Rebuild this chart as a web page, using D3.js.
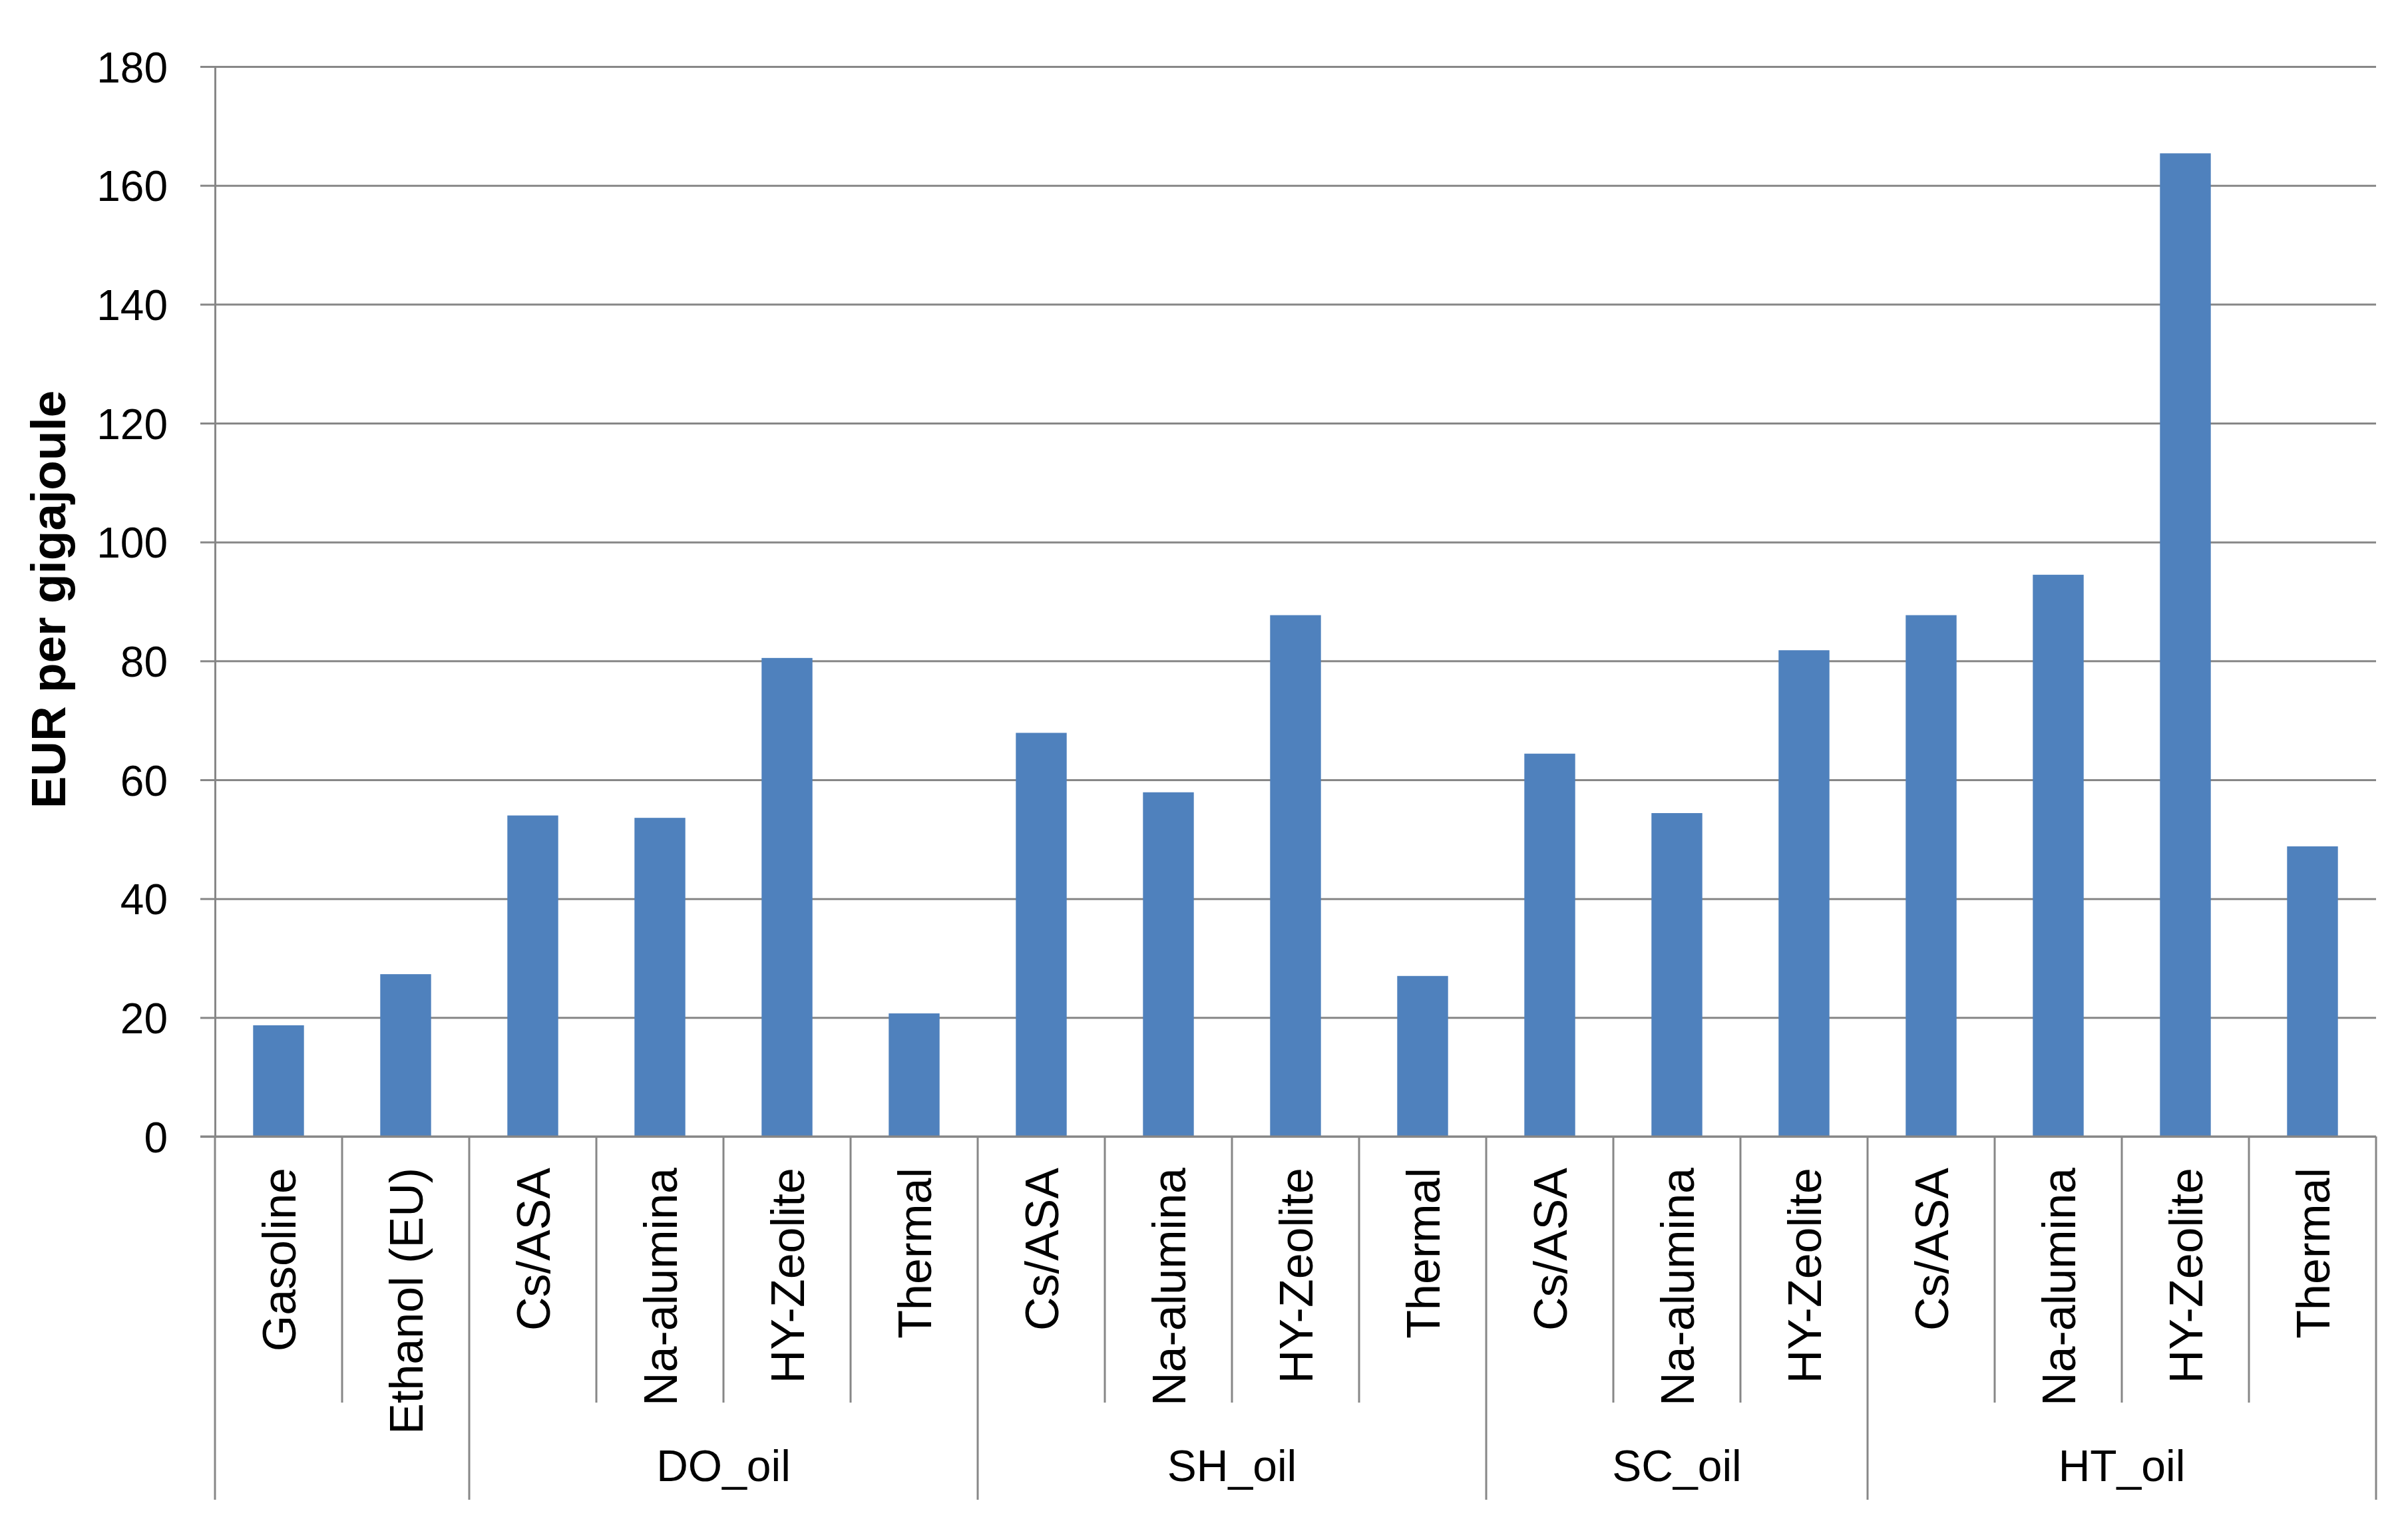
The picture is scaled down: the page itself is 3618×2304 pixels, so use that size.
<!DOCTYPE html>
<html>
<head>
<meta charset="utf-8">
<script src="https://cdn.jsdelivr.net/npm/d3@7"></script>
<style>
    html, body { margin: 0; padding: 0; background: #fff; }
    svg { display: block; }
    text { font-family: "Liberation Sans", Arial, sans-serif; fill: #000; }
</style>
</head>
<body>
<svg id="chart"></svg>
<script>
// categories on the axis (inner level) and the group each one belongs to (outer level)
var categories = ["Gasoline", "Ethanol (EU)",
    "Cs/ASA", "Na-alumina", "HY-Zeolite", "Thermal",
    "Cs/ASA", "Na-alumina", "HY-Zeolite", "Thermal",
    "Cs/ASA", "Na-alumina", "HY-Zeolite",
    "Cs/ASA", "Na-alumina", "HY-Zeolite", "Thermal"];
var groups = ["", "",
    "DO_oil", "DO_oil", "DO_oil", "DO_oil",
    "SH_oil", "SH_oil", "SH_oil", "SH_oil",
    "SC_oil", "SC_oil", "SC_oil",
    "HT_oil", "HT_oil", "HT_oil", "HT_oil"];
// EUR per gigajoule
var costs = [18.7, 27.3,
    54.0, 53.6, 80.5, 20.7,
    67.9, 57.9, 87.7, 27.0,
    64.4, 54.4, 81.8,
    87.7, 94.5, 165.4, 48.8];
var yTicks = [0, 20, 40, 60, 80, 100, 120, 140, 160, 180];

drawChart();

function drawChart() {
    var width = 3618, height = 2304;
    var plotLeft = 323, plotRight = 3570, plotTop = 100, plotBottom = 1708;
    var gridColor = "#878787";

    var svg = d3.select("#chart")
        .attr("width", width)
        .attr("height", height);

    var x = d3.scaleBand()
        .domain(d3.range(categories.length))
        .range([plotLeft, plotRight])
        .padding(0);

    var y = d3.scaleLinear()
        .domain([0, 180])
        .range([plotBottom, plotTop]);

    // horizontal gridlines
    var grid = svg.append("g")
        .attr("transform", "translate(" + plotLeft + ",0)")
        .call(d3.axisLeft(y).tickValues(yTicks).tickSize(-(plotRight - plotLeft)).tickFormat(""));
    grid.select(".domain").remove();
    grid.selectAll("line")
        .attr("stroke", gridColor)
        .attr("stroke-width", 3);

    // y axis: outward ticks + labels
    var yAxis = svg.append("g")
        .attr("transform", "translate(" + plotLeft + ",0)")
        .call(d3.axisLeft(y).tickValues(yTicks).tickSize(22).tickPadding(49).tickSizeOuter(0));
    yAxis.select(".domain")
        .attr("stroke", gridColor)
        .attr("stroke-width", 3);
    yAxis.selectAll(".tick line")
        .attr("stroke", gridColor)
        .attr("stroke-width", 3);
    yAxis.selectAll(".tick text")
        .attr("font-size", 64)
        .attr("font-family", "Liberation Sans, Arial, sans-serif")
        .attr("fill", "#000")
        .attr("dy", "0.36em");

    // bars
    var barW = x.bandwidth() * 0.4;
    svg.append("g")
        .selectAll("rect")
        .data(costs)
        .enter().append("rect")
        .attr("x", function (d, i) { return x(i) + (x.bandwidth() - barW) / 2; })
        .attr("y", function (d) { return y(d); })
        .attr("width", barW)
        .attr("height", function (d) { return y(0) - y(d); })
        .attr("fill", "#4F81BD");

    // x axis baseline
    svg.append("line")
        .attr("x1", plotLeft - 22).attr("x2", plotRight)
        .attr("y1", y(0)).attr("y2", y(0))
        .attr("stroke", gridColor)
        .attr("stroke-width", 3);

    // separators between categories: short inside a group, long between groups
    var shortEnd = 2108, longEnd = 2254;
    var n = categories.length;
    svg.append("g")
        .selectAll("line")
        .data(d3.range(n + 1))
        .enter().append("line")
        .attr("x1", function (i) { return i < n ? x(i) : plotRight; })
        .attr("x2", function (i) { return i < n ? x(i) : plotRight; })
        .attr("y1", y(0))
        .attr("y2", function (i) {
            var isGroupEdge = i === 0 || i === n || groups[i] !== groups[i - 1];
            return isGroupEdge ? longEnd : shortEnd;
        })
        .attr("stroke", gridColor)
        .attr("stroke-width", 3);

    // category labels, rotated
    svg.append("g")
        .selectAll("text")
        .data(categories)
        .enter().append("text")
        .attr("transform", function (d, i) {
            return "translate(" + (x(i) + x.bandwidth() / 2) + "," + (y(0) + 47) + ") rotate(-90)";
        })
        .attr("text-anchor", "end")
        .attr("dy", "0.36em")
        .attr("font-size", 70)
        .text(function (d) { return d; });

    // group labels
    var groupSpans = [];
    groups.forEach(function (g, i) {
        if (i === 0 || g !== groups[i - 1]) {
            groupSpans.push({ name: g, start: i, end: i });
        } else {
            groupSpans[groupSpans.length - 1].end = i;
        }
    });
    svg.append("g")
        .selectAll("text")
        .data(groupSpans.filter(function (s) { return s.name !== ""; }))
        .enter().append("text")
        .attr("x", function (s) { return (x(s.start) + x(s.end) + x.bandwidth()) / 2; })
        .attr("y", 2226)
        .attr("text-anchor", "middle")
        .attr("font-size", 66)
        .text(function (s) { return s.name; });

    // y axis title
    svg.append("text")
        .attr("transform", "translate(98,901) rotate(-90)")
        .attr("text-anchor", "middle")
        .attr("font-size", 73)
        .attr("font-weight", "bold")
        .text("EUR per gigajoule");
}
</script>
</body>
</html>
